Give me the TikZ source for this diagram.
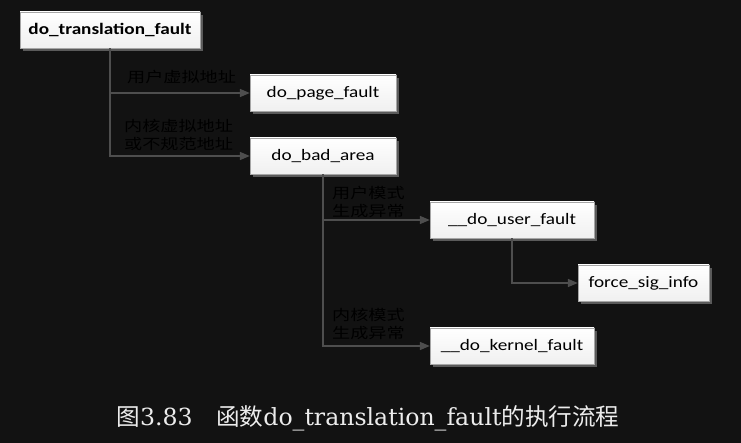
\documentclass[tikz,border=0pt]{standalone}
\usepackage{fontspec}
\setmainfont{DejaVu Serif}
\newfontfamily\cjk{Noto Sans CJK SC}
\newfontfamily\boxfont[FakeStretch=1.2]{Carlito}
\newfontfamily\lblfont[FakeStretch=1.25]{Noto Sans CJK SC}
\usetikzlibrary{arrows.meta,shadows}
\definecolor{bgdark}{RGB}{18,18,18}
\definecolor{linkgray}{RGB}{78,78,78}
\definecolor{shadegray}{RGB}{90,90,90}
\tikzset{
  func/.style={draw=gray!70,top color=white,bottom color=gray!12,
    minimum height=36pt,inner sep=0pt,
    font=\boxfont\fontsize{16}{18}\selectfont,
    drop shadow={shadow xshift=3pt,shadow yshift=-3pt,fill=shadegray,opacity=1}},
  link/.style={draw=linkgray,line width=1.6pt,-{Triangle[length=10pt,width=8pt]}},
  cond/.style={anchor=west,align=left,text=black,inner sep=0pt,
    font=\lblfont\fontsize{14.5}{18}\selectfont}
}
\begin{document}
\begin{tikzpicture}[x=1pt,y=-1pt]
\useasboundingbox[fill=bgdark] (0,0) rectangle (741,443);
\node[func,minimum width=180pt] (tf) at (110,30) {\bfseries do\_translation\_fault};
\node[func,minimum width=146pt] (pf) at (323,93) {do\_page\_fault};
\node[func,minimum width=146pt] (ba) at (323,156) {do\_bad\_area};
\node[func,minimum width=164pt] (uf) at (512,220) {\_\_do\_user\_fault};
\node[func,minimum width=131pt] (fs) at (643.5,283) {force\_sig\_info};
\node[func,minimum width=164pt] (kf) at (512,346) {\_\_do\_kernel\_fault};
%%%%%%%%%%%%%%%
\node[cond] (c1) at (127,77) {用户虚拟地址};
\node[cond] (c2) at (124,135) {内核虚拟地址\\或不规范地址};
\node[cond] (c3) at (332,202) {用户模式\\生成异常};
\node[cond] (c4) at (332,324) {内核模式\\生成异常};
%%%%%%%%%%%%%%%
\draw[link] (tf.south) |- (pf.west);
\draw[link] (tf.south) |- (ba.west);
\draw[link] (ba.south) |- (uf.west);
\draw[link] (ba.south) |- (kf.west);
\draw[link] (uf.south) |- (fs.west);
\node[text=gray!15,font=\fontsize{23.6}{26}\selectfont] (cap) at (368,418)
  {{\cjk 图}3.83\hspace{1em}{\cjk 函数}do\_translation\_fault{\cjk 的执行流程}};
\end{tikzpicture}
\end{document}
